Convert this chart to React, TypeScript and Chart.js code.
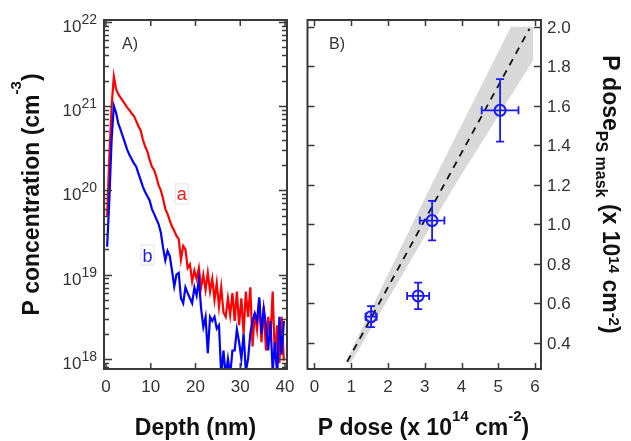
import React, { useEffect, useRef } from "react";
import { Chart, registerables } from "chart.js";
Chart.register(...registerables);

// ---------- Panel A data ----------
const depthNm = [
  0.25, 0.75, 1.25, 1.75, 2.25, 2.75, 3.25, 3.75, 4.25, 4.75,
  5.25, 5.75, 6.25, 6.75, 7.25, 7.75, 8.25, 8.75, 9.25, 9.75,
  10.25, 10.75, 11.25, 11.75, 12.25, 12.75, 13.25, 13.75, 14.25, 14.75,
  15.25, 15.75, 16.25, 16.75, 17.25, 17.75, 18.25, 18.75, 19.25, 19.75,
  20.25, 20.75, 21.25, 21.75, 22.25, 22.75, 23.25, 23.75, 24.25, 24.75,
  25.25, 25.75, 26.25, 26.75, 27.25, 27.75, 28.25, 28.75, 29.25, 29.75,
  30.25, 30.75, 31.25, 31.75, 32.25, 32.75, 33.25, 33.75, 34.25, 34.75,
  35.25, 35.75, 36.25, 36.75, 37.25, 37.75, 38.25, 38.75, 39.25, 39.75,
];
const concA = [
  5.0e19, 2.5e20, 1.0e21, 2.24e21, 1.58e21, 1.38e21, 1.26e21, 1.15e21, 1.05e21, 9.55e20,
  8.91e20, 8.13e20, 7.59e20, 6.61e20, 5.75e20, 5.13e20, 3.98e20, 3.31e20, 2.88e20, 2.29e20,
  1.91e20, 1.74e20, 1.45e20, 1.15e20, 1.0e20, 7.94e19, 6.03e19, 5.25e19, 4.37e19, 3.72e19,
  3.31e19, 2.88e19, 2.63e19, 1.51e19, 2.19e19, 2.0e19, 1.2e19, 1.32e19, 8.32e18, 1.12e19,
  8.91e18, 1.2e19, 7.08e18, 1.0e19, 6.61e18, 1.05e19, 6.31e18, 8.91e18, 5.01e18, 7.94e18,
  4.17e18, 7.08e18, 3.55e18, 3.16e18, 5.25e18, 3.31e18, 6.03e18, 2.82e18, 6.31e18, 2.51e18,
  5.25e18, 2.0e18, 6.31e18, 3.16e18, 7.08e18, 1.41e18, 3.55e18, 2.24e18, 5.01e18, 1.58e18,
  4.17e18, 1.26e18, 3.16e18, 1.78e18, 6.31e18, 1.0e18, 2.51e18, 8.91e17, 3.16e18, 9.55e17,
];
const concB = [
  2.14e19, 7.94e19, 3.98e20, 1.0e21, 8.32e20, 6.17e20, 5.25e20, 4.37e20, 3.63e20, 3.02e20,
  2.63e20, 2.34e20, 2.09e20, 1.91e20, 1.58e20, 1.32e20, 1.1e20, 9.55e19, 8.51e19, 7.59e19,
  6.03e19, 5.25e19, 4.57e19, 3.98e19, 3.16e19, 2.09e19, 1.48e19, 1.91e19, 1.66e19, 1.12e19,
  7.24e18, 1.0e19, 1.05e19, 5.25e18, 4.57e18, 7.08e18, 6.03e18, 5.25e18, 4.57e18, 7.08e18,
  5.62e18, 8.71e18, 3.98e18, 2.4e18, 3.16e18, 1.17e18, 3.16e18, 2.82e18, 3.16e18, 2.29e18,
  2.51e18, 6.31e17, 1.26e18, 6.31e17, 1.0e18, 6.31e17, 1.26e18, 1.26e18, 2.24e18, 1.58e18,
  1.0e18, 2.0e18, 7.08e17, 1.0e18, 2.0e18, 2.82e18, 3.47e18, 2.82e18, 5.37e18, 2.0e18,
  3.98e18, 2.51e18, 1.26e18, 2.82e18, 7.08e17, 1.58e18, 6.31e17, 3.16e18, 1.12e18, 2.82e18,
];
const depthTicks = [0, 10, 20, 30, 40];
const concTicks = [1e18, 1e19, 1e20, 1e21, 1e22];
const concTickExps = ["18", "19", "20", "21", "22"];
const curveLabels = ["a", "b"];
const curveLabelDepth = [15.8, 8.15];
const curveLabelConc = [7.6e19, 1.43e19];

// ---------- Panel B data ----------
const doseX = [1.54, 2.82, 3.2, 5.05];
const doseY = [0.533, 0.638, 1.019, 1.577];
const doseXErr = [0.15, 0.3, 0.335, 0.5];
const doseYErr = [0.053, 0.067, 0.1, 0.158];
const fitX = [0.89, 5.85];
const fitY = [0.305, 1.99];
const bandX = [0.84, 3.11, 5.345, 5.95, 5.95, 3.74, 0.99];
const bandY = [0.3, 1.174, 2.0, 2.0, 1.83, 1.174, 0.3];
const doseTicks = [0, 1, 2, 3, 4, 5, 6];
const maskTicks = [0.4, 0.6, 0.8, 1.0, 1.2, 1.4, 1.6, 1.8, 2.0];
const maskTickLabels = ["0.4", "0.6", "0.8", "1.0", "1.2", "1.4", "1.6", "1.8", "2.0"];

const FONT = '"Liberation Sans", Arial, Helvetica, sans-serif';
const AXIS = "#3a3a3a";
const TICKTXT = "#333";
const RED = "#ff0000";
const BLUE = "#0000ff";
const PBLUE = "#1a1aff";

type Seg = { t: string; size: number; dy: number };

function segWidth(ctx: any, segs: Seg[], bold: boolean) {
  let w = 0;
  for (const s of segs) {
    ctx.font = `${bold ? "bold " : ""}${s.size}px ${FONT}`;
    w += ctx.measureText(s.t).width;
  }
  return w;
}
function drawSegs(ctx: any, segs: Seg[], bold: boolean, x: number, y: number, align: string) {
  const total = segWidth(ctx, segs, bold);
  let cx = align === "center" ? x - total / 2 : align === "right" ? x - total : x;
  ctx.textAlign = "left";
  ctx.textBaseline = "alphabetic";
  for (const s of segs) {
    ctx.font = `${bold ? "bold " : ""}${s.size}px ${FONT}`;
    ctx.fillText(s.t, cx, y + s.dy);
    cx += ctx.measureText(s.t).width;
  }
}

const leftDecor = {
  id: "leftDecor",
  afterDraw(chart: any) {
    const { ctx, chartArea: a, scales } = chart;
    const xs = scales.x;
    const ys = scales.y;
    ctx.save();
    // tick marks
    ctx.strokeStyle = AXIS;
    ctx.lineWidth = 1.5;
    ctx.beginPath();
    for (const t of depthTicks) {
      const px = xs.getPixelForValue(t);
      ctx.moveTo(px, a.bottom);
      ctx.lineTo(px, a.bottom - 6);
      ctx.moveTo(px, a.top);
      ctx.lineTo(px, a.top + 6);
    }
    for (let e = 17; e <= 22; e++) {
      for (let m = 1; m <= 9; m++) {
        const v = m * Math.pow(10, e);
        if (v < ys.min || v > ys.max) continue;
        const py = Math.round(ys.getPixelForValue(v)) + 0.5;
        const len = m === 1 ? 8 : 5;
        ctx.moveTo(a.left, py);
        ctx.lineTo(a.left + len, py);
        ctx.moveTo(a.right, py);
        ctx.lineTo(a.right - len, py);
      }
    }
    ctx.stroke();
    // frame
    ctx.lineWidth = 2;
    ctx.strokeRect(a.left, a.top, a.right - a.left, a.bottom - a.top);

    // tick labels
    ctx.fillStyle = TICKTXT;
    ctx.font = `17px ${FONT}`;
    ctx.textAlign = "center";
    ctx.textBaseline = "alphabetic";
    for (const t of depthTicks) {
      ctx.fillText(String(t), xs.getPixelForValue(t), 392);
    }
    concTicks.forEach((v, i) => {
      const py = ys.getPixelForValue(v);
      ctx.font = `14px ${FONT}`;
      ctx.textAlign = "right";
      const supW = ctx.measureText(concTickExps[i]).width;
      ctx.fillText(concTickExps[i], 97, py + 2);
      ctx.font = `17px ${FONT}`;
      ctx.fillText("10", 97 - supW, py + 10);
    });

    // axis titles
    ctx.fillStyle = "#111";
    drawSegs(ctx, [{ t: "Depth (nm)", size: 23, dy: 0 }], true, (a.left + a.right) / 2, 435, "center");
    ctx.save();
    ctx.translate(38.5, (a.top + a.bottom) / 2);
    ctx.rotate(-Math.PI / 2);
    drawSegs(
      ctx,
      [
        { t: "P concentration (cm", size: 23, dy: 0 },
        { t: "-3", size: 15, dy: -18 },
        { t: ")", size: 23, dy: 0 },
      ],
      true,
      0,
      0,
      "center"
    );
    ctx.restore();

    // panel label
    ctx.fillStyle = TICKTXT;
    ctx.font = `16px ${FONT}`;
    ctx.textAlign = "left";
    ctx.fillText("A)", 122, 49);

    // curve labels
    const colors = ["#e42020", "#2020e4"];
    curveLabels.forEach((lab, i) => {
      const px = xs.getPixelForValue(curveLabelDepth[i]);
      const py = ys.getPixelForValue(curveLabelConc[i]);
      ctx.font = `18px ${FONT}`;
      const w = ctx.measureText(lab).width;
      ctx.fillStyle = "#ffffff";
      ctx.strokeStyle = "#e4e4e4";
      ctx.lineWidth = 1;
      ctx.fillRect(px - 2, py - 17, w + 4, 21);
      ctx.strokeRect(px - 2 + 0.5, py - 17 + 0.5, w + 3, 20);
      ctx.fillStyle = colors[i];
      ctx.textAlign = "left";
      ctx.fillText(lab, px, py);
    });
    ctx.restore();
  },
};

const rightBand = {
  id: "rightBand",
  beforeDatasetsDraw(chart: any) {
    const { ctx, chartArea: a, scales } = chart;
    ctx.save();
    ctx.beginPath();
    ctx.rect(a.left, a.top, a.right - a.left, a.bottom - a.top);
    ctx.clip();
    ctx.fillStyle = "#d9d9d9";
    ctx.beginPath();
    bandX.forEach((x, i) => {
      const px = scales.x.getPixelForValue(x);
      const py = scales.y.getPixelForValue(bandY[i]);
      if (i === 0) ctx.moveTo(px, py);
      else ctx.lineTo(px, py);
    });
    ctx.closePath();
    ctx.fill();
    ctx.restore();
  },
  afterDatasetsDraw(chart: any) {
    const { ctx, scales } = chart;
    const xs = scales.x;
    const ys = scales.y;
    ctx.save();
    ctx.strokeStyle = PBLUE;
    ctx.lineWidth = 1.8;
    ctx.beginPath();
    doseX.forEach((x, i) => {
      const px = xs.getPixelForValue(x);
      const py = ys.getPixelForValue(doseY[i]);
      const x0 = xs.getPixelForValue(x - doseXErr[i]);
      const x1 = xs.getPixelForValue(x + doseXErr[i]);
      const y0 = ys.getPixelForValue(doseY[i] - doseYErr[i]);
      const y1 = ys.getPixelForValue(doseY[i] + doseYErr[i]);
      ctx.moveTo(x0, py);
      ctx.lineTo(x1, py);
      ctx.moveTo(x0, py - 4);
      ctx.lineTo(x0, py + 4);
      ctx.moveTo(x1, py - 4);
      ctx.lineTo(x1, py + 4);
      ctx.moveTo(px, y0);
      ctx.lineTo(px, y1);
      ctx.moveTo(px - 4, y0);
      ctx.lineTo(px + 4, y0);
      ctx.moveTo(px - 4, y1);
      ctx.lineTo(px + 4, y1);
    });
    ctx.stroke();
    ctx.restore();
  },
  afterDraw(chart: any) {
    const { ctx, chartArea: a, scales } = chart;
    const xs = scales.x;
    const ys = scales.y;
    ctx.save();
    ctx.strokeStyle = AXIS;
    ctx.lineWidth = 1.5;
    ctx.beginPath();
    for (const t of doseTicks) {
      const px = Math.round(xs.getPixelForValue(t)) + 0.5;
      ctx.moveTo(px, a.bottom);
      ctx.lineTo(px, a.bottom - 6);
      ctx.moveTo(px, a.top);
      ctx.lineTo(px, a.top + 6);
    }
    for (const t of maskTicks) {
      const py = Math.round(ys.getPixelForValue(t)) + 0.5;
      ctx.moveTo(a.left, py);
      ctx.lineTo(a.left + 7, py);
      ctx.moveTo(a.right, py);
      ctx.lineTo(a.right - 7, py);
    }
    ctx.stroke();
    ctx.lineWidth = 2;
    ctx.strokeRect(a.left, a.top, a.right - a.left, a.bottom - a.top);

    ctx.fillStyle = TICKTXT;
    ctx.font = `17px ${FONT}`;
    ctx.textAlign = "center";
    ctx.textBaseline = "alphabetic";
    for (const t of doseTicks) ctx.fillText(String(t), xs.getPixelForValue(t), 392);
    ctx.textAlign = "left";
    maskTicks.forEach((t, i) => {
      ctx.fillText(maskTickLabels[i], a.right + 6, ys.getPixelForValue(t) + 6);
    });

    ctx.fillStyle = "#111";
    drawSegs(
      ctx,
      [
        { t: "P dose (x 10", size: 23, dy: 0 },
        { t: "14", size: 15, dy: -14 },
        { t: " cm", size: 23, dy: 0 },
        { t: "-2", size: 15, dy: -14 },
        { t: ")", size: 23, dy: 0 },
      ],
      true,
      123.5,
      435,
      "center"
    );
    ctx.save();
    ctx.translate(303, (a.top + a.bottom) / 2);
    ctx.rotate(Math.PI / 2);
    drawSegs(
      ctx,
      [
        { t: "P dose", size: 23, dy: 0 },
        { t: "PS mask", size: 16, dy: 7 },
        { t: " (x 10", size: 23, dy: 0 },
        { t: "14", size: 15, dy: -6 },
        { t: " cm", size: 23, dy: 0 },
        { t: "-2", size: 15, dy: -6 },
        { t: ")", size: 23, dy: 0 },
      ],
      true,
      0,
      0,
      "center"
    );
    ctx.restore();

    ctx.fillStyle = TICKTXT;
    ctx.font = `16px ${FONT}`;
    ctx.textAlign = "left";
    ctx.fillText("B)", 29, 49);
    ctx.restore();
  },
};

export default function App() {
  const leftRef = useRef<HTMLCanvasElement>(null);
  const rightRef = useRef<HTMLCanvasElement>(null);

  useEffect(() => {
    const left = new Chart(leftRef.current as HTMLCanvasElement, {
      type: "line",
      data: {
        datasets: [
          {
            label: "b",
            data: depthNm.map((x, i) => ({ x, y: concB[i] })),
            borderColor: BLUE,
            borderWidth: 2.2,
            pointRadius: 0,
            tension: 0,
          },
          {
            label: "a",
            data: depthNm.map((x, i) => ({ x, y: concA[i] })),
            borderColor: RED,
            borderWidth: 2.2,
            pointRadius: 0,
            tension: 0,
          },
        ],
      },
      options: {
        animation: false,
        responsive: false,
        devicePixelRatio: 1,
        layout: { padding: { left: 104, top: 20, right: 13, bottom: 72 } },
        plugins: { legend: { display: false }, tooltip: { enabled: false } },
        scales: {
          x: { type: "linear", display: false, min: -0.45, max: 40.45 },
          y: { type: "logarithmic", display: false, min: 7.6e17, max: 1.047e22 },
        },
      },
      plugins: [leftDecor],
    } as any);

    const right = new Chart(rightRef.current as HTMLCanvasElement, {
      type: "line",
      data: {
        datasets: [
          {
            label: "points",
            data: doseX.map((x, i) => ({ x, y: doseY[i] })),
            showLine: false,
            pointStyle: "circle",
            pointRadius: 5.5,
            pointBorderWidth: 2,
            pointBorderColor: PBLUE,
            pointBackgroundColor: "rgba(0,0,0,0)",
            borderColor: PBLUE,
          },
          {
            label: "fit",
            data: fitX.map((x, i) => ({ x, y: fitY[i] })),
            borderColor: "#111",
            borderWidth: 1.8,
            borderDash: [7, 6],
            pointRadius: 0,
            tension: 0,
          },
        ],
      },
      options: {
        animation: false,
        responsive: false,
        devicePixelRatio: 1,
        layout: { padding: { left: 7, top: 20, right: 90, bottom: 72 } },
        plugins: { legend: { display: false }, tooltip: { enabled: false } },
        scales: {
          x: { type: "linear", display: false, min: -0.19, max: 6.163 },
          y: { type: "linear", display: false, min: 0.268, max: 2.034 },
        },
      },
      plugins: [rightBand],
    } as any);

    return () => {
      left.destroy();
      right.destroy();
    };
  }, []);

  return (
    <div style={{ position: "absolute", left: 0, top: 0, width: 631, height: 441, background: "#fff" }}>
      <canvas
        ref={leftRef}
        width={300}
        height={441}
        style={{ position: "absolute", left: 0, top: 0, width: 300, height: 441, display: "block" }}
      />
      <canvas
        ref={rightRef}
        width={331}
        height={441}
        style={{ position: "absolute", left: 300, top: 0, width: 331, height: 441, display: "block" }}
      />
    </div>
  );
}
